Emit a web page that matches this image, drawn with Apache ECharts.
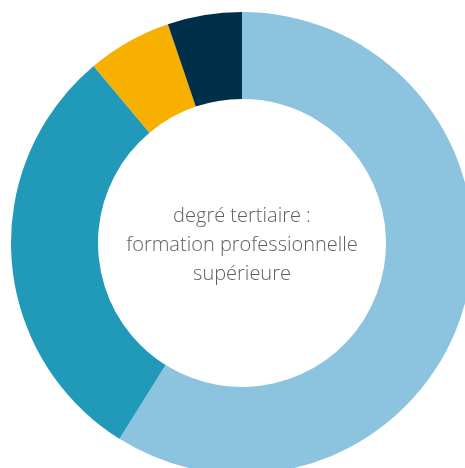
<!DOCTYPE html>
<html><head><meta charset="utf-8">
<script src="https://cdn.jsdelivr.net/npm/echarts@6/dist/echarts.min.js"></script>
<style>html,body{margin:0;padding:0;background:#fff}#c{width:465px;height:468px}</style>
</head><body><div id="c"></div>
<script>
var categories = ['A', 'B', 'C', 'D'];
var values = [58.9, 30.0, 5.9, 5.2];
var colors = ['#8CC3DE', '#2199B9', '#F7B000', '#003049'];
var centerText = 'degré tertiaire :\nformation professionnelle\nsupérieure';

var chart = echarts.init(document.getElementById('c'));
chart.setOption({
  animation: false,
  series: [{
    type: 'pie',
    center: [242, 243],
    radius: [144, 231],
    startAngle: 90,
    clockwise: true,
    label: {show: false},
    labelLine: {show: false},
    itemStyle: {borderWidth: 0},
    emphasis: {disabled: true},
    data: categories.map(function (c, i) {
      return {name: c, value: values[i], itemStyle: {color: colors[i]}};
    })
  }],
  graphic: [{
    type: 'text',
    x: 242, y: 245,
    style: {
      text: centerText,
      textAlign: 'center',
      textVerticalAlign: 'middle',
      fill: '#5e5e5e',
      fontFamily: 'Open Sans',
      fontWeight: 300,
      fontSize: 20,
      lineHeight: 29
    }
  }]
});
</script></body></html>
